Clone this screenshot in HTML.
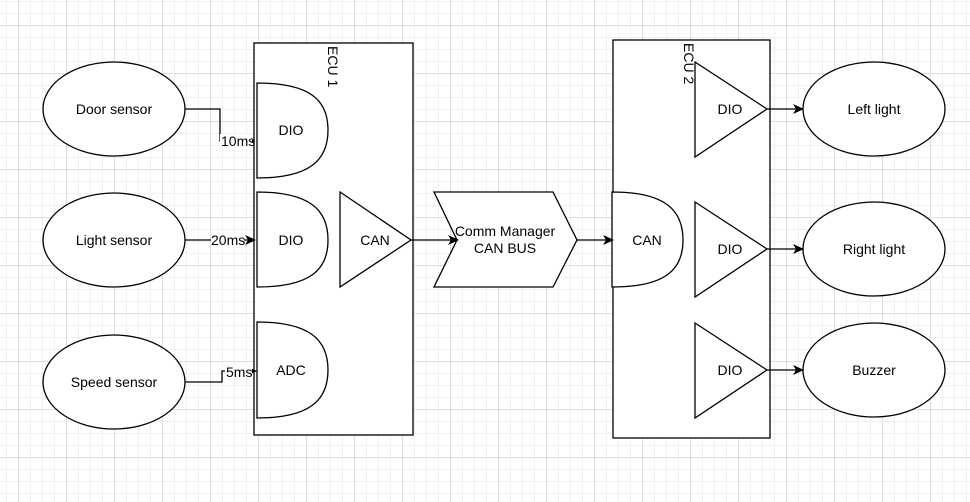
<!DOCTYPE html>
<html><head><meta charset="utf-8"><style>
html,body{margin:0;padding:0;}
body{width:970px;height:502px;overflow:hidden;background:#fff;
background-image:
linear-gradient(#dedede 1px,transparent 1px),
linear-gradient(90deg,#dedede 1px,transparent 1px),
linear-gradient(#f0f0f0 1px,transparent 1px),
linear-gradient(90deg,#f0f0f0 1px,transparent 1px);
background-size:48px 48px,48px 48px,12px 12px,12px 12px;
background-position:0 25px,18px 0,0 1px,6px 0;}
svg{position:absolute;left:0;top:0;}
text{font-family:"Liberation Sans",sans-serif;font-size:14px;fill:#000;}
</style></head><body>
<svg width="970" height="502" viewBox="0 0 970 502">
<defs><marker id="a" markerWidth="11" markerHeight="10" refX="10" refY="5" orient="auto" markerUnits="userSpaceOnUse"><path d="M0,0 L11,5 L0,10 L3,5 z" fill="#000"/></marker></defs>
<g fill="#fff" stroke="#000" stroke-width="1.3">
<ellipse cx="114" cy="109" rx="71" ry="47"/>
<ellipse cx="114" cy="240" rx="71" ry="47"/>
<ellipse cx="114" cy="382" rx="71" ry="47"/>
<ellipse cx="874" cy="109" rx="71" ry="47"/>
<ellipse cx="874" cy="249" rx="71" ry="47"/>
<ellipse cx="874" cy="370" rx="71" ry="47"/>
<rect x="254" y="43" width="159" height="392"/>
<rect x="613" y="40" width="157" height="398"/>
<path d="M257,83 C310,83 328,100 328,130 C328,160 310,178 257,178 Z"/>
<path d="M257,192 C310,192 328,210 328,240 C328,270 310,287 257,287 Z"/>
<path d="M257,322 C310,322 328,340 328,370 C328,400 310,418 257,418 Z"/>
<path d="M340,192 L411,240 L340,287 Z"/>
<path d="M434,192 L553,192 L577,240 L553,287 L434,287 L457,240 Z"/>
<path d="M612,192 C665,192 683,210 683,240 C683,270 665,287 612,287 Z"/>
<path d="M695,62 L767,109 L695,157 Z"/>
<path d="M695,202 L767,249 L695,297 Z"/>
<path d="M695,323 L767,370 L695,418 Z"/>
</g>
<g fill="none" stroke="#000" stroke-width="1.3">
<path d="M185,109 H220 V141 H254" marker-end="url(#a)"/>
<path d="M185,240 H255" marker-end="url(#a)"/>
<path d="M185,382 H222 V371 H256" marker-end="url(#a)"/>
<path d="M411,240 H458" marker-end="url(#a)"/>
<path d="M577,240 H613" marker-end="url(#a)"/>
<path d="M767,109 H803" marker-end="url(#a)"/>
<path d="M767,249 H803" marker-end="url(#a)"/>
<path d="M767,370 H803" marker-end="url(#a)"/>
</g>
<g text-anchor="middle">
<text x="114" y="114">Door sensor</text>
<text x="114" y="245">Light sensor</text>
<text x="114" y="387">Speed sensor</text>
<text x="874" y="114">Left light</text>
<text x="874" y="254">Right light</text>
<text x="874" y="375">Buzzer</text>
<text x="291" y="135">DIO</text>
<text x="291" y="245">DIO</text>
<text x="291" y="375">ADC</text>
<text x="375" y="245">CAN</text>
<text x="505" y="236">Comm Manager</text>
<text x="505" y="253">CAN BUS</text>
<text x="647" y="245">CAN</text>
<text x="730" y="114">DIO</text>
<text x="730" y="254">DIO</text>
<text x="730" y="375">DIO</text>
</g>
<rect x="220" y="134" width="32" height="14" fill="#fff"/>
<text x="221" y="146">10ms</text>
<rect x="211" y="233" width="33" height="14" fill="#fff"/>
<text x="211" y="245">20ms</text>
<rect x="225" y="364" width="27" height="14" fill="#fff"/>
<text x="226" y="377">5ms</text>
<text transform="translate(328,46) rotate(90)">ECU 1</text>
<text transform="translate(684,43) rotate(90)">ECU 2</text>
</svg>
</body></html>
